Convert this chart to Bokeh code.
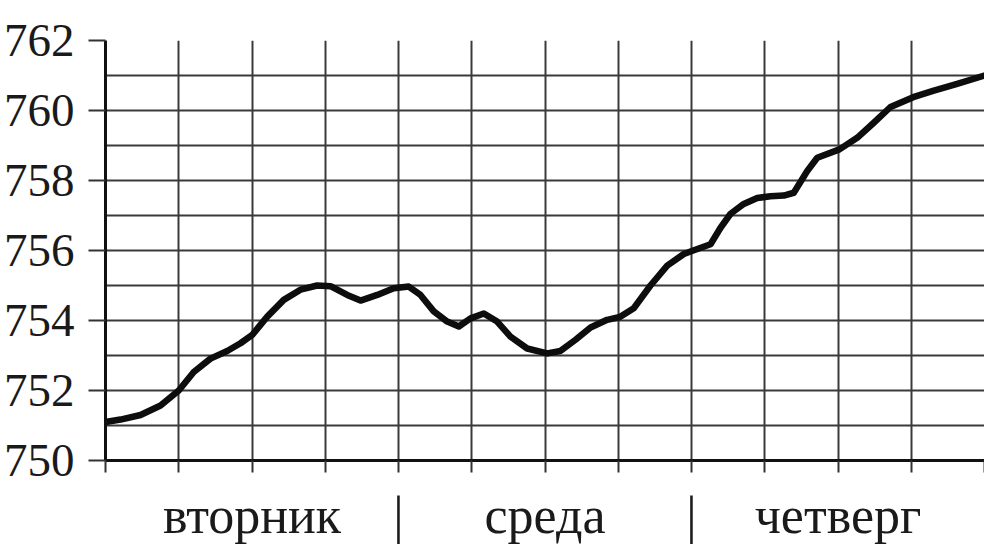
from bokeh.plotting import figure
from bokeh.models import FixedTicker, Range1d
from bokeh.embed import file_html
from bokeh.resources import INLINE

# hours from Tuesday 00:00, pressure in mm Hg
hours = [0, 1.23, 2.87, 4.51, 6.0, 7.23, 8.6, 9.97, 11.06, 12.02, 13.25, 14.6,
         15.97, 17.34, 18.43, 19.8, 20.89, 22.26, 23.61, 24.84, 25.8, 26.89,
         27.99, 28.94, 29.9, 30.99, 32.08, 33.17, 34.54, 36.18, 37.27, 38.5,
         39.73, 41.09, 42.13, 43.27, 44.64, 46.01, 47.37, 48.14, 49.56, 50.38,
         51.2, 52.28, 53.38, 54.47, 55.56, 56.38, 57.48, 58.3, 60.12, 61.57,
         62.93, 64.3, 66.16, 67.85, 69.76, 72]
pressure = [751.1, 751.17, 751.3, 751.57, 752.0, 752.53, 752.91, 753.13, 753.35,
            753.59, 754.11, 754.59, 754.88, 755.0, 754.98, 754.73, 754.57,
            754.73, 754.92, 754.97, 754.73, 754.26, 753.97, 753.83, 754.06,
            754.2, 753.97, 753.54, 753.2, 753.06, 753.13, 753.45, 753.8, 754.02,
            754.1, 754.35, 755.0, 755.57, 755.9, 756.0, 756.18, 756.65, 757.05,
            757.33, 757.5, 757.55, 757.57, 757.65, 758.27, 758.65, 758.89,
            759.22, 759.65, 760.1, 760.38, 760.57, 760.76, 761.0]

y_ticks = [750, 752, 754, 756, 758, 760, 762]
y_grid = list(range(750, 763))
x_ticks = list(range(0, 73, 6))
day_labels = {12: "вторник", 24: "|", 36: "среда", 48: "|", 60: "четверг"}

p = figure(width=984, height=556, output_backend="svg", toolbar_location=None,
           x_range=Range1d(0, 72), y_range=Range1d(750, 762),
           min_border_left=105, min_border_top=40, min_border_bottom=96,
           min_border_right=0)
p.outline_line_color = None
p.background_fill_color = "white"
p.border_fill_color = "white"

# grids
p.xgrid.ticker = FixedTicker(ticks=x_ticks)
p.ygrid.ticker = FixedTicker(ticks=y_grid)
for g in (p.xgrid, p.ygrid):
    g.grid_line_color = "#3a3a3a"
    g.grid_line_width = 2
    g.grid_line_alpha = 1.0

# y axis
p.yaxis.ticker = FixedTicker(ticks=y_ticks)
p.yaxis.axis_line_color = "#111111"
p.yaxis.axis_line_width = 3
p.yaxis.major_tick_line_color = "#333333"
p.yaxis.major_tick_line_width = 2
p.yaxis.major_tick_out = 17
p.yaxis.major_tick_in = 0
p.yaxis.minor_tick_line_color = None
p.yaxis.major_label_text_font = "Liberation Serif"
p.yaxis.major_label_text_font_size = "47px"
p.yaxis.major_label_text_color = "#1a1a1a"
p.yaxis.major_label_standoff = 14

# x axis
overrides = {t: day_labels.get(t, "") for t in x_ticks}
p.xaxis.ticker = FixedTicker(ticks=x_ticks)
p.xaxis.major_label_overrides = overrides
p.xaxis.axis_line_color = "#111111"
p.xaxis.axis_line_width = 3
p.xaxis.major_tick_line_color = "#333333"
p.xaxis.major_tick_line_width = 2
p.xaxis.major_tick_out = 12
p.xaxis.major_tick_in = 0
p.xaxis.minor_tick_line_color = None
p.xaxis.major_label_text_font = "Liberation Serif"
p.xaxis.major_label_text_font_size = "52px"
p.xaxis.major_label_text_color = "#1a1a1a"
p.xaxis.major_label_standoff = 14

p.line(hours, pressure, line_color="#0d0d0d", line_width=6.5,
       line_join="round", line_cap="round")

open("out.html", "w").write(file_html(p, INLINE))
